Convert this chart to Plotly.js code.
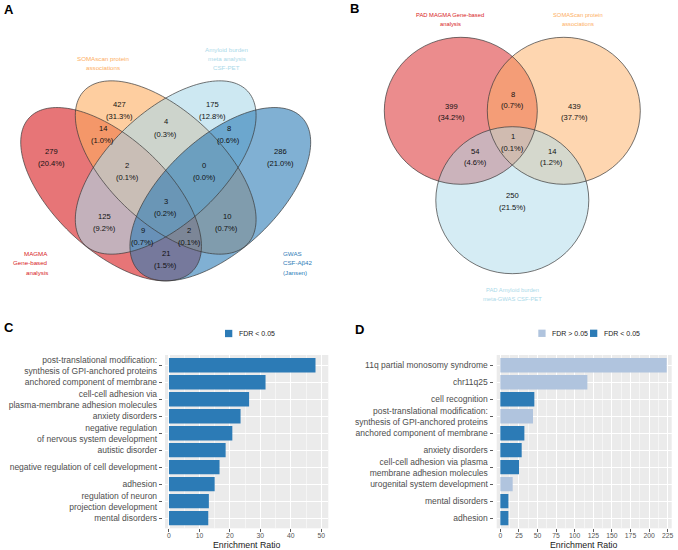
<!DOCTYPE html>
<html><head><meta charset="utf-8">
<script src="https://cdn.plot.ly/plotly-3.0.1.min.js"></script>
<style>html,body{margin:0;padding:0;background:#fff}</style>
</head><body><div id="chart" style="width:678px;height:550px"></div>
<script>
// ---------------- DATA ----------------
// Panel A : four-set Venn
const vennASets = ['MAGMA\nGene-based\nanalysis', 'SOMAscan protein\nassociations', 'Amyloid burden\nmeta analysis\nCSF-PET', 'GWAS\nCSF-A\u03b242\n(Jansen)'];
const vennARegions = ['1', '2', '3', '4', '12', '23', '34', '123', '234', '1234', '13', '24', '134', '124', '14'];
const vennACounts = [279, 427, 175, 286, 14, 4, 8, 2, 0, 3, 125, 10, 9, 2, 21];
// Panel B : three-set Venn
const vennBSets = ['PAD MAGMA Gene-based\nanalysis', 'SOMAScan protein\nassociations', 'PAD Amyloid burden\nmeta-GWAS CSF-PET'];
const vennBRegions = ['1', '12', '2', '123', '13', '23', '3'];
const vennBCounts = [399, 8, 439, 1, 54, 14, 250];
// Panel C : enrichment (all FDR < 0.05)
const categoriesC = ['post-translational modification:\nsynthesis of GPI-anchored proteins', 'anchored component of membrane', 'cell-cell adhesion via\nplasma-membrane adhesion molecules', 'anxiety disorders', 'negative regulation\nof nervous system development', 'autistic disorder', 'negative regulation of cell development', 'adhesion', 'regulation of neuron\nprojection development', 'mental disorders'];
const valuesC = [48.1, 31.7, 26.3, 23.5, 20.8, 18.6, 16.6, 15.0, 13.1, 12.9];
// Panel D : enrichment
const categoriesD = ['11q partial monosomy syndrome', 'chr11q25', 'cell recognition', 'post-translational modification:\nsynthesis of GPI-anchored proteins', 'anchored component of membrane', 'anxiety disorders', 'cell-cell adhesion via plasma\nmembrane adhesion molecules', 'urogenital system development', 'mental disorders', 'adhesion'];
const valuesD = [223.7, 117.0, 45.7, 43.9, 32.3, 28.7, 25.1, 16.6, 10.8, 10.8];
const fdrD = ['FDR > 0.05', 'FDR > 0.05', 'FDR < 0.05', 'FDR > 0.05', 'FDR < 0.05', 'FDR < 0.05', 'FDR < 0.05', 'FDR > 0.05', 'FDR < 0.05', 'FDR < 0.05'];
const fdrLevels = ['FDR > 0.05', 'FDR < 0.05'];

// ---------------- STYLE / LAYOUT HELPERS ----------------
const W = 678, H = 550;
const px = x => x / W, py = y => 1 - y / H;
const FONT = 'Liberation Sans, Arial, Helvetica, sans-serif';
const fdrColors = {'FDR > 0.05': '#B0C4DE', 'FDR < 0.05': '#2C7BB6'};
const setColorsA = ['#D7191C', '#FDAE61', '#ABD9E9', '#2C7BB6'];
const setColorsB = ['#D7191C', '#FDAE61', '#ABD9E9'];

const shapes = [];
const annotations = [];

function txt(x, y, text, opt) {
  opt = opt || {};
  annotations.push({
    xref: 'paper', yref: 'paper', x: px(x), y: py(y), text: text, showarrow: false,
    xanchor: opt.xanchor || 'center', yanchor: 'middle',
    font: {family: FONT, size: opt.size || 7.4, color: opt.color || '#111'}
  });
}

function ellipsePath(cx, cy, A, B, deg) {
  const th = deg * Math.PI / 180, n = 160;
  let d = '';
  for (let i = 0; i <= n; i++) {
    const t = 2 * Math.PI * i / n;
    const X = cx + A * Math.cos(t) * Math.cos(th) - B * Math.sin(t) * Math.sin(th);
    const Y = cy + A * Math.cos(t) * Math.sin(th) + B * Math.sin(t) * Math.cos(th);
    d += (i === 0 ? 'M' : 'L') + px(X).toFixed(5) + ',' + py(Y).toFixed(5);
  }
  return d + 'Z';
}

// ---------- Venn A geometry (pixel space) ----------
const axisA = 165.7;
const ellA = [
  {cx: 111.1, cy: 194.2, A: 112, B: 56, deg: 43},
  {cx: axisA, cy: 167.5, A: 112, B: 56, deg: 43},
  {cx: axisA, cy: 167.5, A: 112, B: 56, deg: -43},
  {cx: 2 * axisA - 111.1, cy: 194.2, A: 112, B: 56, deg: -43}
];
ellA.forEach((e, i) => shapes.push({type: 'path', xref: 'paper', yref: 'paper', path: ellipsePath(e.cx, e.cy, e.A, e.B, e.deg),
  fillcolor: setColorsA[i], opacity: 0.6, line: {width: 0}, layer: 'above'}));
ellA.forEach((e, i) => shapes.push({type: 'path', xref: 'paper', yref: 'paper', path: ellipsePath(e.cx, e.cy, e.A, e.B, e.deg),
  fillcolor: 'rgba(0,0,0,0)', line: {color: '#3a3a3a', width: 0.7}, layer: 'above'}));

const totalA = vennACounts.reduce((a, b) => a + b, 0);
const posA = [[51.5, 151], [119, 104], [212.4, 104], [280, 151], [102.5, 128.5], [165.7, 122], [228.9, 128.5],
  [127.3, 165.7], [204, 165.7], [165.7, 201.7], [104.5, 216.5], [226.9, 216.5], [142.7, 230], [189.2, 230], [165.7, 253.3]];
vennACounts.forEach((c, i) => {
  txt(posA[i][0], posA[i][1], String(c), {size: 7.6});
  txt(posA[i][0], posA[i][1] + 12.2, '(' + (100 * c / totalA).toFixed(1) + '%)', {size: 7.6});
});
// set labels A
const labA = [
  {x: 50, y: 253.5, anchor: 'right'}, {x: 103.3, y: 58.3, anchor: 'center'},
  {x: 226.7, y: 49.3, anchor: 'center'}, {x: 280.5, y: 253.5, anchor: 'left'}
];
vennASets.forEach((s, i) => {
  s.split('\n').forEach((line, j) => txt(labA[i].x, labA[i].y + j * 9.3, line, {size: 6.2, color: setColorsA[i], xanchor: labA[i].anchor}));
});

// ---------- Venn B geometry ----------
const circB = [{cx: 460.8, cy: 110.8}, {cx: 563.8, cy: 110.8}, {cx: 512.3, cy: 200.2}];
const rxB = 76.5, ryB = 73.5;
circB.forEach((c, i) => shapes.push({type: 'circle', xref: 'paper', yref: 'paper', x0: px(c.cx - rxB), x1: px(c.cx + rxB),
  y0: py(c.cy + ryB), y1: py(c.cy - ryB), fillcolor: setColorsB[i], opacity: 0.5, line: {width: 0}, layer: 'above'}));
circB.forEach((c, i) => shapes.push({type: 'circle', xref: 'paper', yref: 'paper', x0: px(c.cx - rxB), x1: px(c.cx + rxB),
  y0: py(c.cy + ryB), y1: py(c.cy - ryB), fillcolor: 'rgba(0,0,0,0)', line: {color: '#3a3a3a', width: 0.7}, layer: 'above'}));
const totalB = vennBCounts.reduce((a, b) => a + b, 0);
const posB = [[451.7, 106], [512.7, 94], [574.3, 106], [512.7, 136.7], [475, 151], [551.7, 151], [512.7, 195.7]];
vennBCounts.forEach((c, i) => {
  txt(posB[i][0], posB[i][1], String(c), {size: 7.6});
  txt(posB[i][0], posB[i][1] + 11.8, '(' + (100 * c / totalB).toFixed(1) + '%)', {size: 7.6});
});
const labB = [{x: 450, y: 14.7}, {x: 577.7, y: 14.7}, {x: 512.7, y: 289.5}];
vennBSets.forEach((s, i) => {
  s.split('\n').forEach((line, j) => txt(labB[i].x, labB[i].y + j * 9, line, {size: 5.8, color: setColorsB[i]}));
});

// ---------- Panel letters ----------
txt(8.5, 9.5, '<b>A</b>', {size: 13, color: '#000'});
txt(354, 8.5, '<b>B</b>', {size: 13, color: '#000'});
txt(8.5, 327.5, '<b>C</b>', {size: 13, color: '#000'});
txt(359, 329, '<b>D</b>', {size: 13, color: '#000'});

// ---------- Legends ----------
function legKey(x, y, color, label) {
  shapes.push({type: 'rect', xref: 'paper', yref: 'paper', x0: px(x), x1: px(x + 7.3), y0: py(y + 3.65), y1: py(y - 3.65),
    fillcolor: color, line: {width: 0}});
  txt(x + 12, y, label, {size: 7, color: '#222', xanchor: 'left'});
}
legKey(225, 333.5, fdrColors['FDR < 0.05'], 'FDR < 0.05');
legKey(538.3, 333.3, fdrColors[fdrLevels[0]], fdrLevels[0]);
legKey(590, 333.3, fdrColors[fdrLevels[1]], fdrLevels[1]);

// axis titles
txt(246.7, 544.6, 'Enrichment Ratio', {size: 8.8, color: '#1a1a1a'});
txt(584.2, 544.6, 'Enrichment Ratio', {size: 8.8, color: '#1a1a1a'});

// ---------- Traces ----------
const flat = a => a.map(s => s.replace(/\n/g, ' '));
const brk = a => a.map(s => s.replace(/\n/g, '<br>'));
const traces = [
  {type: 'bar', orientation: 'h', x: valuesC, y: flat(categoriesC), xaxis: 'x', yaxis: 'y', width: 0.85,
   marker: {color: fdrColors['FDR < 0.05']}, hoverinfo: 'x+y', showlegend: false},
  {type: 'bar', orientation: 'h', x: valuesD, y: flat(categoriesD), xaxis: 'x2', yaxis: 'y2', width: 0.85,
   marker: {color: fdrD.map(f => fdrColors[f])}, hoverinfo: 'x+y', showlegend: false}
];

function xAx(dom, range, dtick, anchor) {
  return {domain: dom, range: range, dtick: dtick, tick0: 0, anchor: anchor, ticks: 'outside', ticklen: 2.5, tickwidth: 0.8,
    tickcolor: '#333', tickfont: {family: FONT, size: 6.8, color: '#555'}, ticklabelstandoff: -2,
    gridcolor: '#FFFFFF', gridwidth: 1.1, zeroline: false, showline: false, fixedrange: true,
    minor: {dtick: dtick / 2, tick0: 0, showgrid: true, gridcolor: '#FFFFFF', gridwidth: 0.5, ticks: ''}};
}
function yAx(dom, pos, cats) {
  return {domain: dom, anchor: 'free', position: pos, type: 'category', categoryorder: 'array', categoryarray: flat(cats),
    tickmode: 'array', tickvals: flat(cats), ticktext: brk(cats),
    tickfont: {family: FONT, size: 8.5, color: '#4D4D4D'},
    range: [cats.length - 0.4, -0.6], ticks: 'outside', ticklen: 3, tickwidth: 0.8, tickcolor: '#333',
    gridcolor: '#FFFFFF', gridwidth: 1.1, zeroline: false, showline: false, fixedrange: true};
}

const layout = {
  width: W, height: H, margin: {l: 0, r: 0, t: 0, b: 0}, paper_bgcolor: '#FFFFFF', plot_bgcolor: '#EBEBEB',
  font: {family: FONT}, showlegend: false, bargap: 0.1,
  xaxis: xAx([px(165), px(328.3)], [-1.3, 52.3], 10, 'y'),
  yaxis: yAx([py(528.3), py(355)], px(161.8), categoriesC),
  xaxis2: xAx([px(496.7), px(671.7)], [-4.9, 230.4], 25, 'y2'),
  yaxis2: yAx([py(528.3), py(355)], px(492.5), categoriesD),
  shapes: shapes, annotations: annotations
};

Plotly.newPlot('chart', traces, layout, {displayModeBar: false, staticPlot: true});
</script></body></html>
